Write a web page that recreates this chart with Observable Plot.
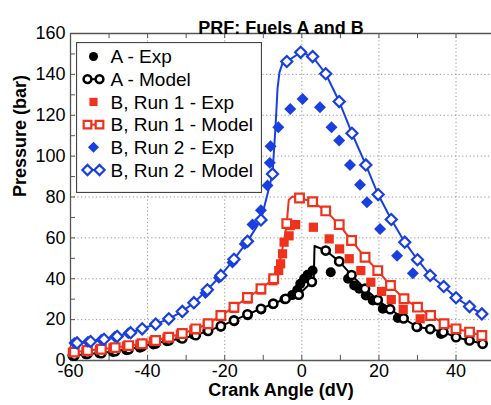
<!DOCTYPE html>
<html><head><meta charset="utf-8">
<script src="https://cdn.jsdelivr.net/npm/d3@7"></script>
<script src="https://cdn.jsdelivr.net/npm/@observablehq/plot@0.6"></script>
<style>
body{margin:0;background:#fff;}
#wrap{position:relative;width:491px;height:405px;overflow:hidden;}
#legend{position:absolute;left:76px;top:42px;}
</style></head>
<body><div id="wrap"></div>
<script>
// ---- data (crank angle in dV, pressure in bar) ----
const aExpX   = [-59.5,-56,-52.5,-49,-45.5,-42,-38.5,-35,-31.5,-28,-24.5,-21,-17.5,-14,-10.5,-7.5,-4.5,-2.5,-1.2,-0.4,0.6,1.5,2.8,7.5,12,13.6,14.9,16.6,18.4,21,24.9,30,36.1];
const aExpP   = [2.4,3,3.5,4.2,5,6.2,7.8,9.4,11,12.6,14.5,16.5,19.2,22.2,25,27.5,30,32,34.5,37.5,40,42,44,43.2,40,36.7,35.1,31.8,29.4,25.3,20.8,16.3,13];
const aModX   = [-59,-55.6,-52,-48.4,-44.9,-41.4,-37.9,-34.5,-31,-27.5,-24.3,-21,-17.6,-14.1,-10.6,-7.4,-4.2,-0.8,2.6,6.2,9.7,12.9,16.4,19.7,22.9,26.4,29.8,33.3,36.7,40,43.5,46.9];
const aModP   = [2.4,3.3,3.6,4.6,5.5,7,8.4,9.8,10.8,12.4,14.5,16.8,19.6,22.6,25.3,27.8,30.2,32.2,38.5,53.8,48.5,41.8,35.1,29.6,25.1,20.6,16.5,15.4,13.9,11.4,9.8,8.2];
const aLineX  = [3.1,3.3];          // extra vertices of the A model curve (pressure jump)
const aLineP  = [40.5,56];

const b1ExpX  = [-59.5,-56,-52.5,-49,-45.5,-42,-38.5,-35,-31.5,-28,-24.5,-21,-17.5,-14,-10.5,-7.5,-6,-5.5,-5,-4.6,-3.3,-3,-1.6,3,7.1,9.8,12.3,15.3,17.9,20.7,23.2,26.3,30.7];
const b1ExpP  = [4,4.7,5.4,6.2,7.1,8,9.5,11,12.9,15,17.8,21.5,25.5,30,34.5,39,44,47.3,52.2,57.9,61,66,66.5,65.2,59.5,54.6,49.8,44,38.3,33.8,29.8,25,20.4];
const b1ModX  = [-59,-55.6,-52,-48.4,-44.9,-41.4,-37.9,-34.5,-31,-27.5,-24.3,-21,-17.6,-14.1,-10.6,-7.3,-3.9,-0.6,2.8,6.2,9.7,12.9,16.4,19.7,23,26.5,30,33.4,36.9,40,43.5,46.7];
const b1ModP  = [4.1,4.9,5.5,6.3,7.3,8.2,9.8,11.4,13.2,15.5,18,22,26.1,30.8,35.1,40,67,79.5,77.7,73.2,66.5,58.7,50.5,44,36.7,30.2,26.1,22,18,15.5,13.9,12.2];
const b1LineX = [-5.5,-4.5,-3.4,-2.5];
const b1LineP = [50,60,78.5,80.2];

const b2ExpX  = [-59,-55.5,-52,-48.5,-45,-41.5,-38,-34.5,-31,-28,-25,-21.5,-18,-14.8,-12.8,-10.6,-8.9,-8.3,-8.1,-6.1,-3,0.2,4.7,7.7,9.7,12.5,15.1,16.9,20.3,24.7,28.8];
const b2ExpP  = [8.6,9.2,10.2,11.6,13.3,15.3,17.5,20.2,23.6,28,33,40.5,48,57,66.5,73.5,85.6,96.7,104.8,114.1,123.1,128,123.9,114.1,107.6,95.7,86,77.4,64.4,51.2,42.7];
const b2ModX  = [-58.3,-54.8,-51.3,-47.9,-44.4,-41.4,-37.9,-34.5,-31,-28,-24.5,-21,-17.6,-14.1,-10.6,-7.6,-3.9,-0.3,2.8,6.2,9.7,13,16.6,19.8,23.2,26.7,30,33.3,36.8,40,43.5,46.7];
const b2ModP  = [8.6,9.3,10.4,11.8,13.6,15.5,17.8,20.4,24,28.3,34.6,41.6,49.5,58.3,68.8,91.3,146.3,150.8,148.7,140.3,126.7,111.2,95.7,81.2,69,57.9,49.3,41.6,36.2,30.7,26.4,22.8];
const b2LineX = [-8.9,-6.8,-6.3,-5.8,-5];
const b2LineP = [81.5,115,133,141,145.5];

const xTickLabels = [-60,-40,-20,0,20,40];
const yTickLabels = [0,20,40,60,80,100,120,140,160];
const xGrid = [-40,-20,0,20,40];
const yGrid = [20,40,60,80,100,120,140];
const xMinor = [-60,-50,-40,-30,-20,-10,0,10,20,30,40];
const yMinor = [0,10,20,30,40,50,60,70,80,90,100,110,120,130,140,150,160];

const labels = ["A - Exp","A - Model","B, Run 1 - Exp","B, Run 1 - Model","B, Run 2 - Exp","B, Run 2 - Model"];

const BLUE = "#1a3fe0", RED = "#f0321c", BLACK = "#000";
const FONT = "'Liberation Sans', Arial, Helvetica, sans-serif";

const pts = (xs, ps) => xs.map((x, i) => ({x, p: ps[i]}));
const curve = (xs, ps, ex, ep) => pts(xs, ps).concat(pts(ex, ep)).sort((a, b) => a.x - b.x);

const aExp = pts(aExpX, aExpP), aMod = pts(aModX, aModP), aLine = curve(aModX, aModP, aLineX, aLineP);
const b1Exp = pts(b1ExpX, b1ExpP), b1Mod = pts(b1ModX, b1ModP), b1Line = curve(b1ModX, b1ModP, b1LineX, b1LineP);
const b2Exp = pts(b2ExpX, b2ExpP), b2Mod = pts(b2ModX, b2ModP), b2Line = curve(b2ModX, b2ModP, b2LineX, b2LineP);

const chart = Plot.plot({
  width: 491, height: 405,
  marginLeft: 70, marginRight: 0, marginTop: 33, marginBottom: 45,
  x: {domain: [-60, 49.2]},
  y: {domain: [0, 160]},
  style: {fontFamily: FONT, fontSize: "18px", color: "#000", background: "#fff", overflow: "visible"},
  marks: [
    Plot.gridX(xGrid, {stroke: "#888", strokeOpacity: 0.9, strokeDasharray: "1.2,2.5"}),
    Plot.gridY(yGrid, {stroke: "#888", strokeOpacity: 0.9, strokeDasharray: "1.2,2.5"}),
    Plot.ruleX(xMinor, {x: d => d, y1: 0, y2: 2.5, stroke: "#555"}),
    Plot.ruleX(xMinor, {x: d => d, y1: 160, y2: 157.5, stroke: "#555"}),
    Plot.ruleY(yMinor, {y: d => d, x1: -60, x2: -58.7, stroke: "#555"}),
    Plot.ruleY([0, 160], {stroke: "#555", strokeWidth: 1.3}),
    Plot.ruleX([-60], {stroke: "#555", strokeWidth: 1.3}),

    Plot.dot(aExp, {x: "x", y: "p", symbol: "circle", r: 5, fill: BLACK}),
    Plot.line(aLine, {x: "x", y: "p", stroke: BLACK, strokeWidth: 2}),
    Plot.dot(aMod, {x: "x", y: "p", symbol: "circle", r: 4.1, fill: "#fff", stroke: BLACK, strokeWidth: 2.6}),

    Plot.dot(b1Exp, {x: "x", y: "p", symbol: "square", r: 5.2, fill: RED}),
    Plot.line(b1Line, {x: "x", y: "p", stroke: RED, strokeWidth: 2}),
    Plot.dot(b1Mod, {x: "x", y: "p", symbol: "square", r: 4.9, fill: "#fff", stroke: RED, strokeWidth: 2.2}),

    Plot.dot(b2Exp, {x: "x", y: "p", symbol: "diamond2", r: 5.4, fill: BLUE}),
    Plot.line(b2Line, {x: "x", y: "p", stroke: BLUE, strokeWidth: 2}),
    Plot.dot(b2Mod, {x: "x", y: "p", symbol: "diamond2", r: 5, fill: "#fff", stroke: BLUE, strokeWidth: 2.2}),

    Plot.axisX(xTickLabels, {tickSize: 0, tickPadding: 4, tickFormat: d => String(d), label: null, fontSize: 18}),
    Plot.axisY(yTickLabels, {tickSize: 0, tickPadding: 5, tickFormat: d => String(d), label: null, fontSize: 18}),

    Plot.text(["PRF: Fuels A and B"], {text: d => d, frameAnchor: "top", dy: -12, fontWeight: "bold", fontSize: 18}),
    Plot.text(["Crank Angle (dV)"], {text: d => d, frameAnchor: "bottom", dy: 35, fontWeight: "bold", fontSize: 18}),
    Plot.text(["Pressure (bar)"], {text: d => d, frameAnchor: "left", dx: -50, rotate: -90, fontWeight: "bold", fontSize: 18})
  ]
});

const wrap = document.getElementById("wrap");
wrap.appendChild(chart);

// ---- legend (overlay inside the plot frame) ----
const legendItems = [
  {label: labels[0], symbol: d3.symbolCircle, r: 4.5, fill: BLACK, stroke: "none", sw: 0, pair: false},
  {label: labels[1], symbol: d3.symbolCircle, r: 3.9, fill: "#fff", stroke: BLACK, sw: 2.5, pair: true},
  {label: labels[2], symbol: d3.symbolSquare, r: 4.6, fill: RED, stroke: "none", sw: 0, pair: false},
  {label: labels[3], symbol: d3.symbolSquare, r: 4.3, fill: "#fff", stroke: RED, sw: 2.2, pair: true},
  {label: labels[4], symbol: d3.symbolDiamond2, r: 5, fill: BLUE, stroke: "none", sw: 0, pair: false},
  {label: labels[5], symbol: d3.symbolDiamond2, r: 4.6, fill: "#fff", stroke: BLUE, sw: 2.2, pair: true}
];
const W = 186, H = 151, row0 = 14.5, rowStep = 22.7;
const svg = d3.select(wrap).append("svg").attr("id", "legend").attr("width", W).attr("height", H)
  .style("font-family", FONT).style("font-size", "19px");
svg.append("rect").attr("x", 0.5).attr("y", 0.5).attr("width", W - 1).attr("height", H - 1)
  .attr("fill", "#fff").attr("stroke", "#444").attr("stroke-width", 1.2);
legendItems.forEach((d, i) => {
  const y = row0 + i * rowStep;
  const g = svg.append("g");
  const path = d3.symbol(d.symbol, Math.PI * d.r * d.r)();
  const xs = d.pair ? [11.5, 23.5] : [17.5];
  if (d.pair) g.append("line").attr("x1", 11.5).attr("x2", 23.5).attr("y1", y).attr("y2", y)
    .attr("stroke", d.stroke).attr("stroke-width", 2);
  xs.forEach(x => g.append("path").attr("d", path).attr("transform", `translate(${x},${y})`)
    .attr("fill", d.fill).attr("stroke", d.stroke).attr("stroke-width", d.sw));
  g.append("text").attr("x", 34.5).attr("y", y).attr("dy", "0.36em").text(d.label);
});
</script></body></html>
